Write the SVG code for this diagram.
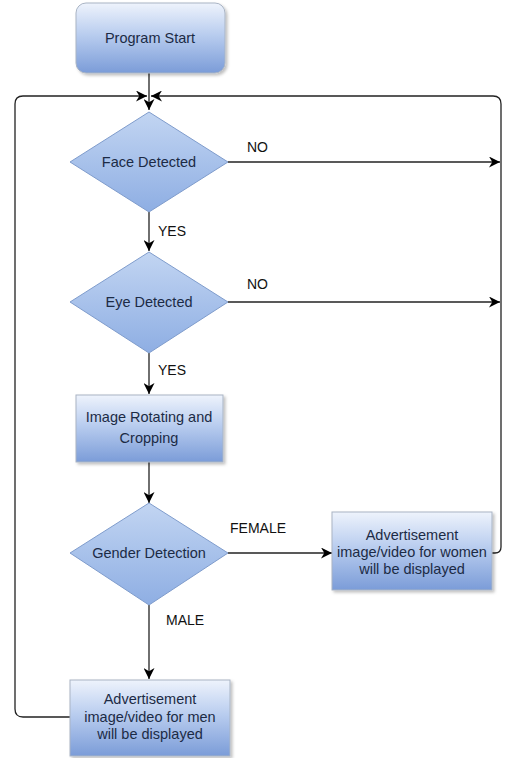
<svg xmlns="http://www.w3.org/2000/svg" width="505" height="758" viewBox="0 0 505 758">
  <defs>
    <linearGradient id="boxFill" x1="0" y1="0" x2="0" y2="1">
      <stop offset="0" stop-color="#eef3fc"/>
      <stop offset="0.45" stop-color="#b9cdef"/>
      <stop offset="1" stop-color="#7b9cd8"/>
    </linearGradient>
    <linearGradient id="diamondFill" x1="0" y1="0" x2="0" y2="1">
      <stop offset="0" stop-color="#c2d5f2"/>
      <stop offset="1" stop-color="#8eaee3"/>
    </linearGradient>
    <filter id="shadow" x="-10%" y="-10%" width="125%" height="130%">
      <feDropShadow dx="2" dy="2" stdDeviation="1.5" flood-color="#000" flood-opacity="0.25"/>
    </filter>
    <marker id="arrow" viewBox="0 0 10 10" refX="10" refY="5" markerWidth="11" markerHeight="11" markerUnits="userSpaceOnUse" orient="auto">
      <path d="M0,0 L10,5 L0,10 L3,5 Z" fill="#000"/>
    </marker>
  </defs>
  <style>
    .box { fill: url(#boxFill); stroke: #a9b4c4; stroke-width: 1; filter: url(#shadow); }
    .diamond { fill: url(#diamondFill); stroke: #7f9ccc; stroke-width: 1; }
    .node-text { font-family: "Liberation Sans", Arial, sans-serif; font-size: 14.5px; fill: #1c2b45; text-anchor: middle; dominant-baseline: central; }
    .label { font-family: "Liberation Sans", Arial, sans-serif; font-size: 14px; fill: #111; dominant-baseline: central; }
    .edge { fill: none; stroke: #222; stroke-width: 1.3; }
    .edge-arrow { fill: none; stroke: #222; stroke-width: 1.3; marker-end: url(#arrow); }
  </style>

  <g id="connectors">
    <!-- start to first decision -->
    <path class="edge-arrow" d="M149,73 L149,110"/>
    <!-- return loop from the men's advertisement -->
    <path class="edge-arrow" d="M70,717 L23,717 Q15,717 15,709 L15,104 Q15,96 23,96 L147,96"/>
    <!-- return loop from the women's advertisement -->
    <path class="edge-arrow" d="M492,553 L495,553 Q501,553 501,547 L501,104 Q501,96 493,96 L151,96"/>
    <!-- face detected: NO -->
    <path class="edge-arrow" d="M228,162 L500,162"/>
    <!-- face detected: YES -->
    <path class="edge-arrow" d="M149,212 L149,251"/>
    <!-- eye detected: NO -->
    <path class="edge-arrow" d="M228,302 L500,302"/>
    <!-- eye detected: YES -->
    <path class="edge-arrow" d="M149,353 L149,394"/>
    <!-- rotating/cropping to gender detection -->
    <path class="edge-arrow" d="M149,462 L149,503"/>
    <!-- gender: FEMALE -->
    <path class="edge-arrow" d="M228,553 L332,553"/>
    <!-- gender: MALE -->
    <path class="edge-arrow" d="M149,605 L149,679"/>
  </g>

  <g id="edge-labels">
    <text class="label" x="247" y="147">NO</text>
    <text class="label" x="158" y="231">YES</text>
    <text class="label" x="247" y="284">NO</text>
    <text class="label" x="158" y="370">YES</text>
    <text class="label" x="230" y="528">FEMALE</text>
    <text class="label" x="166" y="620">MALE</text>
  </g>

  <g id="program-start">
    <rect class="box" x="76" y="3" width="149" height="70" rx="10" ry="10"/>
    <text class="node-text" x="150" y="38">Program Start</text>
  </g>

  <g id="face-detected">
    <polygon class="diamond" points="149,112 228,162 149,212 70,162"/>
    <text class="node-text" x="149" y="162">Face Detected</text>
  </g>

  <g id="eye-detected">
    <polygon class="diamond" points="149,252 228,302 149,353 70,302"/>
    <text class="node-text" x="149" y="302">Eye Detected</text>
  </g>

  <g id="image-rotating">
    <rect class="box" x="76" y="395" width="147" height="67"/>
    <text class="node-text" x="149" y="417">Image Rotating and</text>
    <text class="node-text" x="149" y="438">Cropping</text>
  </g>

  <g id="gender-detection">
    <polygon class="diamond" points="149,503 228,553 149,605 70,553"/>
    <text class="node-text" x="149" y="553">Gender Detection</text>
  </g>

  <g id="ad-women">
    <rect class="box" x="332" y="512" width="160" height="78"/>
    <text class="node-text" x="412" y="535">Advertisement</text>
    <text class="node-text" x="412" y="552">image/video for women</text>
    <text class="node-text" x="412" y="569">will be displayed</text>
  </g>

  <g id="ad-men">
    <rect class="box" x="70" y="680" width="160" height="76"/>
    <text class="node-text" x="150" y="699">Advertisement</text>
    <text class="node-text" x="150" y="717">image/video for men</text>
    <text class="node-text" x="150" y="734">will be displayed</text>
  </g>
</svg>
